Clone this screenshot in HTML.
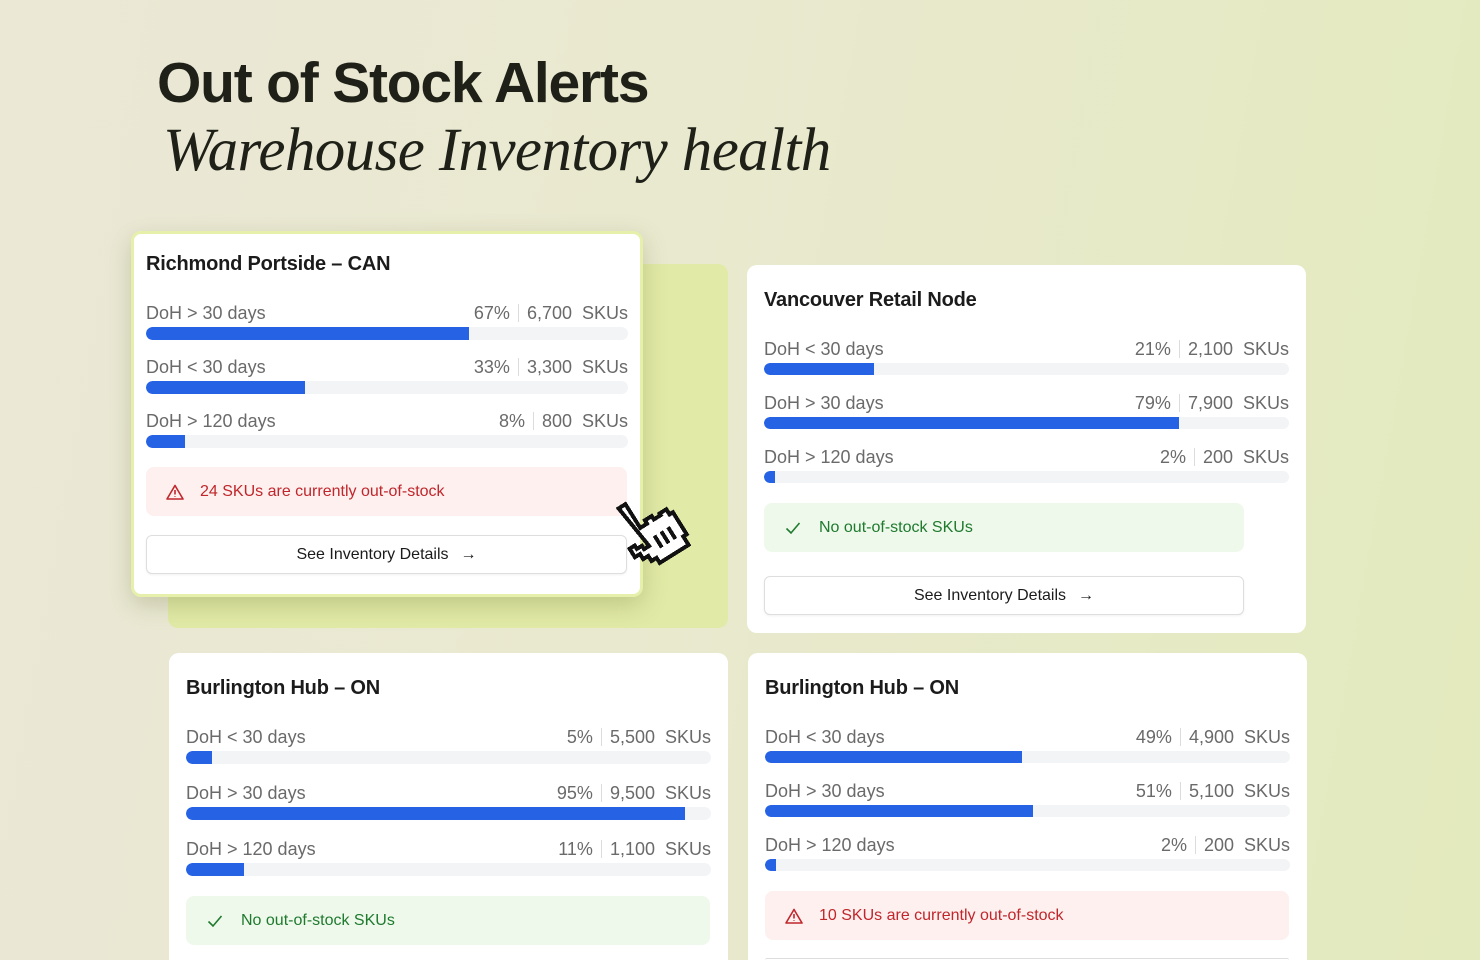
<!DOCTYPE html>
<html><head><meta charset="utf-8">
<style>
*{box-sizing:border-box;margin:0;padding:0}
html{overflow:hidden;width:1480px;height:960px}
body{width:1480px;height:960px;overflow:hidden;position:relative;font-family:"Liberation Sans",sans-serif;
background:linear-gradient(100deg,#ebe8d6 0%,#e9e9cf 45%,#e3eabd 100%);}
.abs{position:absolute}
.h1{left:157px;top:50px;font-size:57px;font-weight:bold;color:#1f2118;letter-spacing:-1.2px}
.h2{left:163px;top:116px;font-family:"Liberation Serif",serif;font-style:italic;font-size:61px;color:#1f2118;letter-spacing:-0.6px}
.card{background:#fff;border-radius:10px}
.clip{overflow:hidden;border-radius:10px 10px 0 0}
.ttl{font-size:20px;color:#1b1b1b;font-weight:bold;letter-spacing:-0.2px}
.lbl{font-size:18px;color:#6a6a6a;white-space:nowrap}
.val{font-size:18px;color:#6a6a6a;white-space:nowrap;text-align:right}
.sep{display:inline-block;width:1px;height:18px;background:#dcdcdc;vertical-align:-3px;margin:0 8px}
.track{background:#f3f4f6;border-radius:7px;overflow:hidden}
.fill{background:#2563e4;height:100%;border-radius:7px 0 0 7px}
.alert{background:#fdf0ef;border-radius:8px;color:#c0262b;font-size:16px;display:flex;align-items:center}
.ok{background:#eef9ec;border-radius:8px;color:#1f7a2e;font-size:16px;display:flex;align-items:center}
.btn{background:#fff;border:1px solid #dedede;border-radius:6px;font-size:16px;color:#1b1b1b;display:flex;align-items:center;justify-content:center;box-shadow:0 1px 2px rgba(0,0,0,.06);overflow:hidden}
</style></head><body>
<div class="abs h1">Out of Stock Alerts</div>
<div class="abs h2">Warehouse Inventory health</div>
<div class="abs" style="left:168px;top:264px;width:560px;height:364px;background:#e1eaa6;border-radius:10px"></div>
<div id="root"></div>
<svg class="abs" style="left:600px;top:488px" width="100" height="95" viewBox="0 0 100 95">
<g transform="rotate(-32 50 48)" stroke="#111" stroke-width="4" fill="#fff" shape-rendering="crispEdges">
<path d="M38 8 h8 v28 h8 v-4 h8 v4 h8 v-2 h8 v6 h4 v26 h-4 v10 h-34 v-6 h-6 v-6 h-6 v-6 h-6 v-10 h6 v4 h6 v4 h6 z"/>
<path d="M54 50 v14 M62 50 v14 M70 50 v14" fill="none"/>
</g></svg>
<script>
const cardTitles=["Richmond Portside – CAN","Vancouver Retail Node","Burlington Hub – ON","Burlington Hub – ON"];
const rowLabels=[["DoH > 30 days","DoH < 30 days","DoH > 120 days"],["DoH < 30 days","DoH > 30 days","DoH > 120 days"],["DoH < 30 days","DoH > 30 days","DoH > 120 days"],["DoH < 30 days","DoH > 30 days","DoH > 120 days"]];
const pctValues=[[67,33,8],[21,79,2],[5,95,11],[49,51,2]];
const skuValues=[[6700,3300,800],[2100,7900,200],[5500,9500,1100],[4900,5100,200]];
const outOfStock=[24,0,0,10];
// layout (not data)
const L=[
 {x:131,y:231,w:512,h:366,pad:15,tY:34,r0:83,step:54,bar:13,sY:236,sW:481,bY:304,bW:481,bH:39,raise:true},
 {x:747,y:265,w:559,h:368,pad:17,tY:36,r0:85,step:54,bar:12,sY:238,sW:480,bY:311,bW:480,bH:39},
 {x:169,y:653,w:559,h:307,pad:17,tY:36,r0:85,step:56,bar:13,sY:243,sW:524,bY:320,bW:524,bH:0},
 {x:748,y:653,w:559,h:307,pad:17,tY:36,r0:85,step:54,bar:12,sY:238,sW:524,bY:305,bW:524,bH:2}
];
const fmt=n=>n.toLocaleString('en-US');
const barX=(p,w)=>Math.max(5,p/100*w);
const root=document.getElementById('root');
cardTitles.forEach((t,i)=>{
 const c=L[i];
 const card=document.createElement('div');
 
 
 card.className='abs card'+(c.bH<39?' clip':'');
 card.style.cssText=`left:${c.x}px;top:${c.y}px;width:${c.w}px;height:${c.h}px;`+(c.raise?'border:3px solid #e6f0ab;box-shadow:0 8px 24px rgba(90,100,40,.25);':'');
 const inner=c.raise?c.pad-3:c.pad, off=c.raise?-3:0;
 const innerW=c.w-2*c.pad;
 let h=`<div class="abs ttl" style="left:${inner}px;top:${c.tY-12+off}px">${t}</div>`;
 rowLabels[i].forEach((lab,j)=>{
  const y=c.r0+j*c.step+off;
  h+=`<div class="abs lbl" style="left:${inner}px;top:${y-11}px">${lab}</div>`;
  h+=`<div class="abs val" style="right:${inner}px;top:${y-11}px">${pctValues[i][j]}%<span class="sep"></span>${fmt(skuValues[i][j])}&nbsp;&nbsp;SKUs</div>`;
  h+=`<div class="abs track" style="left:${inner}px;top:${y+13}px;width:${innerW}px;height:${c.bar}px"><div class="fill" style="width:${barX(pctValues[i][j],innerW)}px"></div></div>`;
 });
 const n=outOfStock[i];
 if(n>0){
  h+=`<div class="abs alert" style="left:${inner}px;top:${c.sY+off}px;width:${c.sW}px;height:49px;padding-left:20px"><svg width="18" height="16" viewBox="0 0 18 16" style="margin-right:16px"><path d="M9 1.5L17 15H1z" fill="none" stroke="#c0262b" stroke-width="1.6" stroke-linejoin="round"/><path d="M9 6v4.5M9 12.3v.6" stroke="#c0262b" stroke-width="1.6"/></svg>${n} SKUs are currently out-of-stock</div>`;
 }else{
  h+=`<div class="abs ok" style="left:${inner}px;top:${c.sY+off}px;width:${c.sW}px;height:49px;padding-left:21px"><svg width="16" height="14" viewBox="0 0 16 14" style="margin-right:18px"><path d="M1.5 7.5l4.5 4.5L14.5 2" fill="none" stroke="#1f7a2e" stroke-width="1.6"/></svg>No out-of-stock SKUs</div>`;
 }
 if(c.bH>=39){
  h+=`<div class="abs btn" style="left:${inner}px;top:${c.bY+off}px;width:${c.bW}px;height:${c.bH}px">See Inventory Details<span style="margin-left:12px;font-size:16px">→</span></div>`;
 }else if(c.bH>0){
  h+=`<div class="abs" style="left:${inner}px;top:${c.bY+off}px;width:${c.bW}px;height:${c.bH}px;border-top:1px solid #dedede;border-radius:6px 6px 0 0"></div>`;
 }
 card.innerHTML=h;
 root.appendChild(card);
});
</script>
</body></html>
